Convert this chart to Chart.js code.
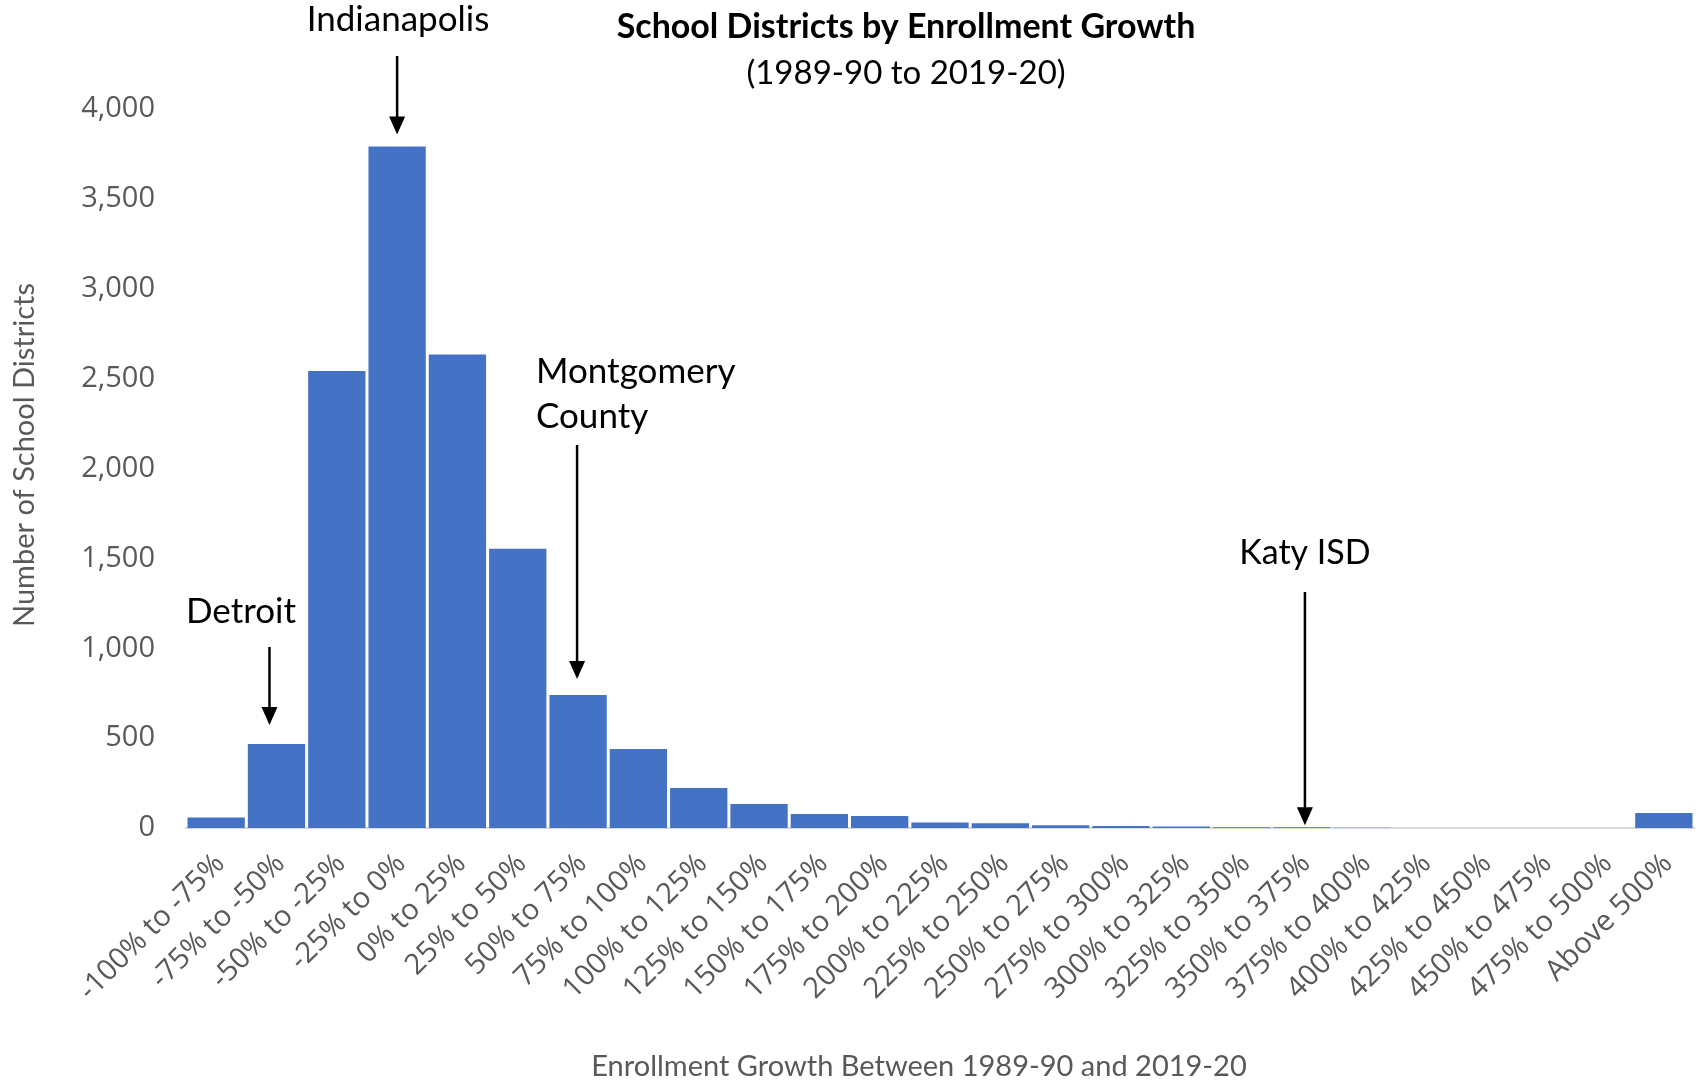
<!DOCTYPE html>
<html>
<head>
<meta charset="utf-8">
<title>School Districts by Enrollment Growth</title>
<script src="https://cdn.jsdelivr.net/npm/chart.js@4.4.1/dist/chart.umd.min.js"></script>
<style>
  html, body { margin: 0; padding: 0; background: #ffffff; }
  #wrap { width: 1700px; height: 1081px; }
</style>
</head>
<body>
<div id="wrap"><canvas id="growthChart" width="1700" height="1081"></canvas></div>
<script>
// enrollment growth bins, 1989-90 to 2019-20
const growthBins = [
  '-100% to -75%', '-75% to -50%', '-50% to -25%', '-25% to 0%', '0% to 25%',
  '25% to 50%', '50% to 75%', '75% to 100%', '100% to 125%', '125% to 150%',
  '150% to 175%', '175% to 200%', '200% to 225%', '225% to 250%', '250% to 275%',
  '275% to 300%', '300% to 325%', '325% to 350%', '350% to 375%', '375% to 400%',
  '400% to 425%', '425% to 450%', '450% to 475%', '475% to 500%', 'Above 500%'
];

// number of school districts in each bin
const districtCounts = [
  58, 468, 2543, 3792, 2634,
  1553, 740, 440, 222, 134,
  78, 67, 31, 26, 15,
  11, 9, 4, 4, 2,
  0, 0, 0, 0, 83
];

const yTickValues = [0, 500, 1000, 1500, 2000, 2500, 3000, 3500, 4000];

// highlighted districts and the bin they fall in
const calloutNames = [['Detroit'], ['Indianapolis'], ['Montgomery', 'County'], ['Katy ISD']];
const calloutBins = ['-75% to -50%', '-25% to 0%', '50% to 75%', '350% to 375%'];

const axisGray = '#595959';
const barBlue = '#4472C4';

function drawArrow(ctx, x, y1, y2) {
  ctx.save();
  ctx.strokeStyle = '#000';
  ctx.fillStyle = '#000';
  ctx.lineWidth = 2.5;
  ctx.beginPath();
  ctx.moveTo(x, y1);
  ctx.lineTo(x, y2 - 17);
  ctx.stroke();
  ctx.beginPath();
  ctx.moveTo(x - 8, y2 - 18);
  ctx.lineTo(x + 8, y2 - 18);
  ctx.lineTo(x, y2);
  ctx.closePath();
  ctx.fill();
  ctx.restore();
}

// titles, axis titles and the district callouts
const decorations = {
  id: 'decorations',
  afterDraw(chart) {
    const ctx = chart.ctx;
    const xs = chart.scales.x;
    const ys = chart.scales.y;

    ctx.save();
    ctx.textAlign = 'center';
    ctx.textBaseline = 'middle';
    ctx.fillStyle = '#000';
    ctx.font = 'bold 34px Lato';
    ctx.fillText('School Districts by Enrollment Growth', 906, 27);
    ctx.font = '33px Lato';
    ctx.fillText('(1989-90 to 2019-20)', 906, 73);

    ctx.fillStyle = axisGray;
    ctx.font = '29px Lato';
    ctx.fillText('Enrollment Growth Between 1989-90 and 2019-20', 919, 1067);
    ctx.save();
    ctx.translate(25, 455);
    ctx.rotate(-Math.PI / 2);
    ctx.fillText('Number of School Districts', 0, 0);
    ctx.restore();

    // callout text boxes and arrows
    const textPos = [
      { x: 241, y: 612, align: 'center' },
      { x: 398, y: 20, align: 'center' },
      { x: 536, y: 372, align: 'left' },
      { x: 1305, y: 553, align: 'center' }
    ];
    const arrowTop = [647, 56, 445, 592];
    const arrowShift = [-7, 0, -1, 3];
    const arrowGap = [19, 12, 16, 2];

    ctx.fillStyle = '#000';
    calloutNames.forEach((lines, i) => {
      const p = textPos[i];
      ctx.textAlign = p.align;
      ctx.font = i === 3 ? '34px Lato' : '35px Lato';
      lines.forEach((line, j) => ctx.fillText(line, p.x, p.y + j * 45));
      const idx = growthBins.indexOf(calloutBins[i]);
      const x = xs.getPixelForValue(idx) + arrowShift[i];
      const tip = ys.getPixelForValue(districtCounts[idx]) - arrowGap[i];
      drawArrow(ctx, x, arrowTop[i], tip);
    });
    ctx.restore();
  }
};

function buildChart() {
  const ctx = document.getElementById('growthChart').getContext('2d');
  new Chart(ctx, {
    type: 'bar',
    data: {
      labels: growthBins,
      datasets: [{
        label: 'School districts',
        data: districtCounts,
        backgroundColor: barBlue,
        borderWidth: 0,
        barPercentage: 0.95,
        categoryPercentage: 1.0
      }]
    },
    options: {
      responsive: false,
      animation: false,
      layout: { padding: { left: 0, right: 6, top: 109, bottom: 0 } },
      plugins: {
        legend: { display: false },
        tooltip: { enabled: false }
      },
      scales: {
        x: {
          grid: { display: true, drawOnChartArea: false, drawTicks: false },
          border: { display: true, color: '#d9d9d9', width: 2 },
          ticks: {
            autoSkip: false,
            maxRotation: 45,
            minRotation: 45,
            padding: 19,
            labelOffset: 4,
            color: axisGray,
            font: { family: 'Open Sans', size: 29 }
          },
          afterFit(scale) {
            scale.height = 253;
            scale.paddingLeft = 0;
            scale.paddingRight = 0;
          }
        },
        y: {
          min: 0,
          max: 4000,
          afterBuildTicks(scale) { scale.ticks = yTickValues.map(v => ({ value: v })); },
          grid: { display: false, drawTicks: false },
          border: { display: false },
          ticks: {
            padding: 31,
            color: axisGray,
            font: { family: 'Open Sans', size: 29 },
            callback: v => v.toLocaleString('en-US')
          },
          afterFit(scale) { scale.width = 186; }
        }
      }
    },
    plugins: [decorations]
  });
}

// wait for the installed faces so canvas text measures correctly
Promise.all([
  document.fonts.load('29px "Open Sans"'),
  document.fonts.load('29px Lato'),
  document.fonts.load('bold 34px Lato')
]).catch(() => {}).then(buildChart);
</script>
</body>
</html>
